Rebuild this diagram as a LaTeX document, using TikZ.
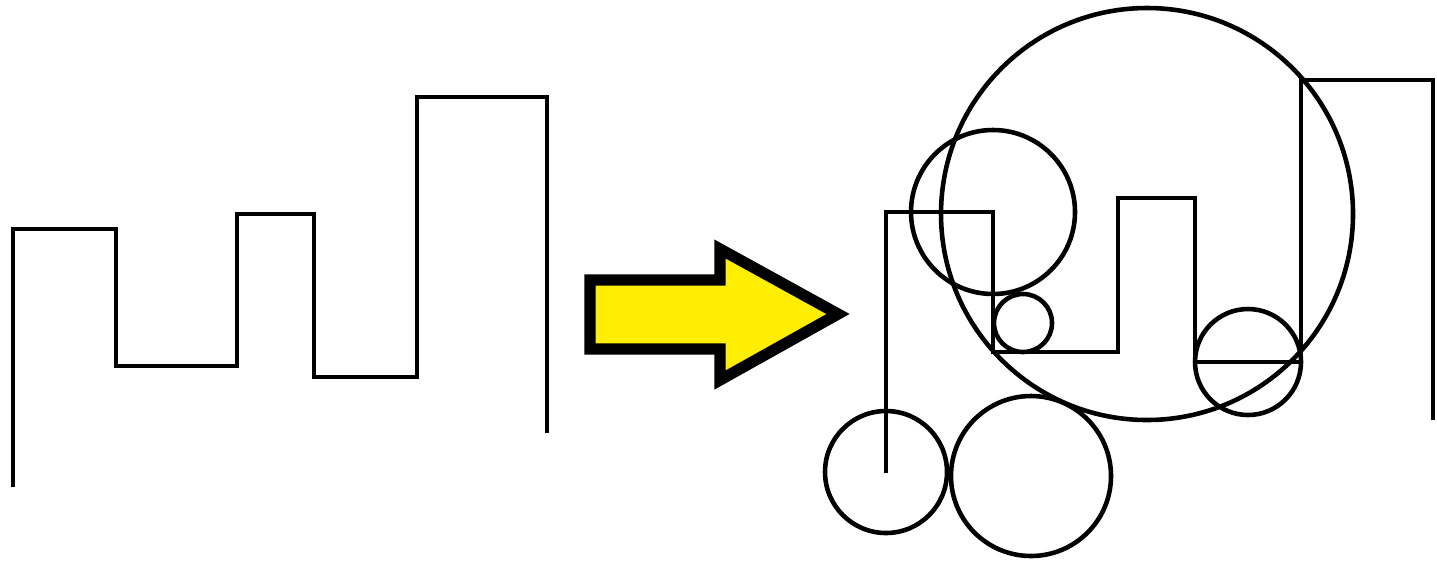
\documentclass[tikz,border=0pt]{standalone}
\usepackage{tikz}
\usetikzlibrary{calc}
\definecolor{arrowyellow}{RGB}{255,238,0}

\begin{document}
\begin{tikzpicture}[
    x=0.01cm, y=-0.01cm,
    stair/.style={draw=black, line width=1.3pt, line join=miter},
    ring/.style={draw=black, line width=1.3pt},
    bigarrow/.style={draw=black, fill=arrowyellow, line width=3.2pt, line join=miter}
]
\useasboundingbox (0,0) rectangle (1437,563);

% original staircase
\draw[stair] (13,487) |- (116,229) |- (237,366) |- (314,214) |- (417,377) |- (547,97) -- (547,433);

% transform arrow
\draw[bigarrow] (590,280) -- (720,280) -- (720,249) -- (838,314) -- (720,380) -- (720,349) -- (590,349) -- cycle;

% reworked staircase
\draw[stair] (886,473) |- (993,212) |- (1118,352) |- (1195,198) |- (1301,362) |- (1433,80) -- (1433,420);

% circles
\coordinate (big) at (1147,214);
\coordinate (corner) at (993,212);
\coordinate (notch) at (1023,323);
\coordinate (step) at (1248,362);
\coordinate (foot) at (886,472);
\coordinate (wheel) at (1031,476);
\draw[ring] (big) circle [x radius=206, y radius=206];
\draw[ring] (corner) circle [x radius=82, y radius=82];
\draw[ring] (notch) circle [x radius=29, y radius=29];
\draw[ring] (step) circle [x radius=53, y radius=53];
\draw[ring] (foot) circle [x radius=61, y radius=61];
\draw[ring] (wheel) circle [x radius=80, y radius=80];

\end{tikzpicture}
\end{document}
